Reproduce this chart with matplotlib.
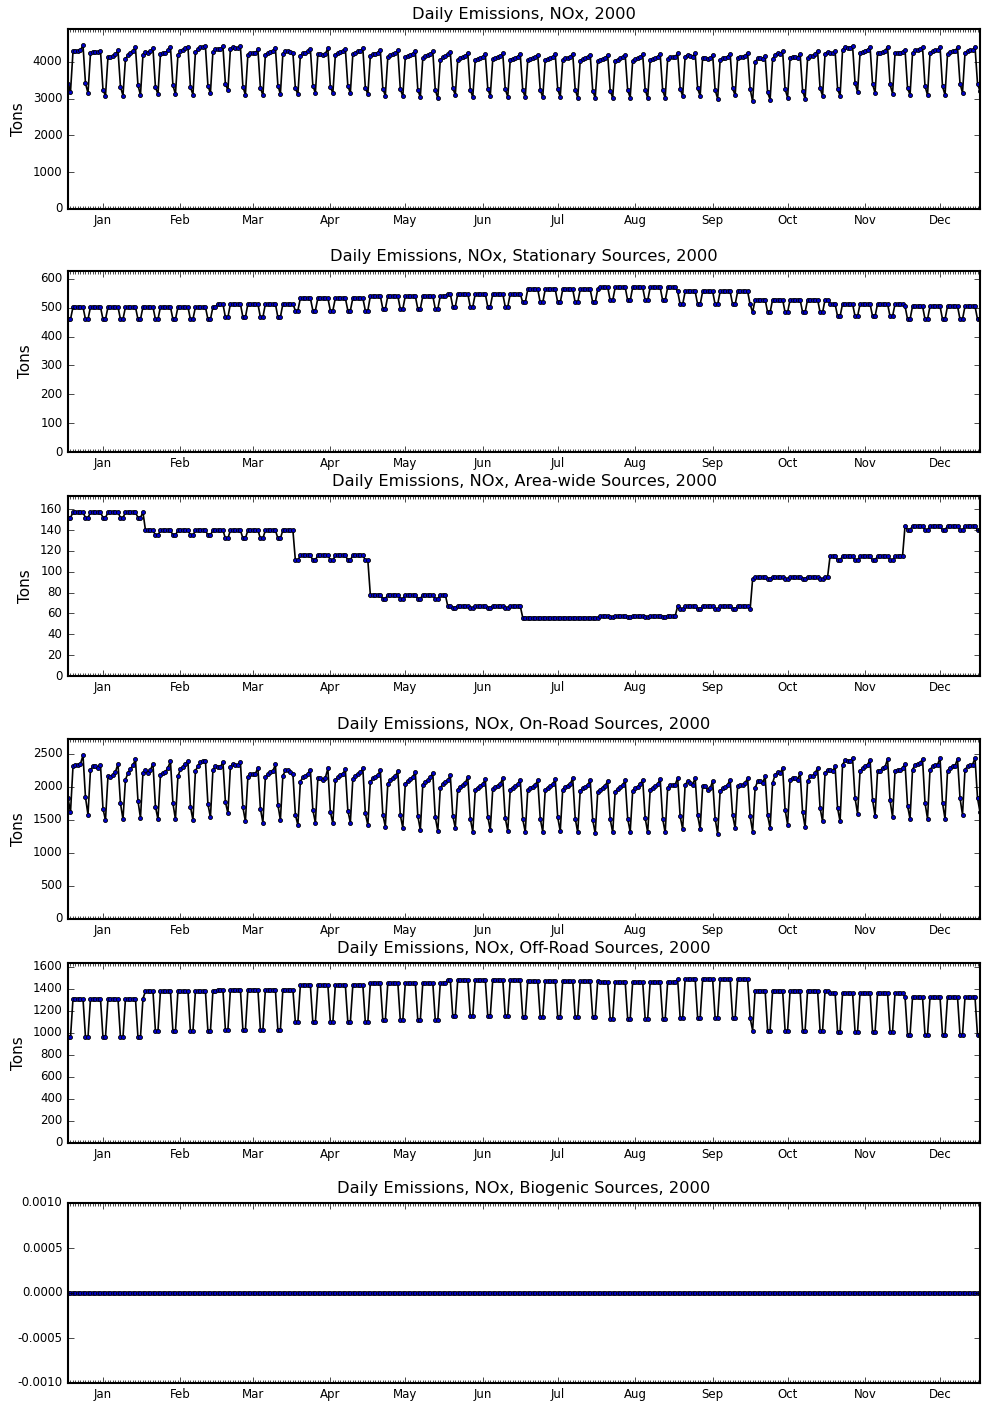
import datetime as dt

import matplotlib
matplotlib.use("Agg")
import matplotlib.pyplot as plt
import matplotlib.dates as mdates

plt.style.use("classic")
plt.rcParams["axes.unicode_minus"] = False

# one point per day of 2000 (leap year, Jan 1 is a Saturday)
days = [dt.date(2000, 1, 1) + dt.timedelta(d) for d in range(366)]

# monthly weekday / weekend levels, tons (Jan..Dec)
stat_weekday = [502, 502, 513, 533, 540, 548, 563, 570, 556, 528, 513, 505]
stat_weekend = [460, 460, 467, 490, 496, 503, 518, 525, 511, 484, 470, 460]

area_weekday = [157, 140, 140, 116, 78, 67, 56, 57.5, 67, 95, 115, 144]
area_weekend = [152, 135, 132, 111, 74, 65.5, 56, 56.5, 64, 93, 111, 140]

offroad_weekday = [1308, 1378, 1392, 1432, 1452, 1482, 1470, 1462, 1484, 1383, 1362, 1322]
offroad_weekend = [958, 1012, 1025, 1095, 1112, 1150, 1140, 1125, 1133, 1020, 1008, 978]

# on-road, one row per week: Sat, Sun, Mon, Tue, Wed, Thu, Fri
onroad = [
    1830, 1615, 2312, 2337, 2337, 2352, 2478,
    1841, 1578, 2260, 2310, 2310, 2290, 2337,
    1670, 1497, 2160, 2150, 2180, 2230, 2350,
    1750, 1510, 2110, 2210, 2270, 2330, 2420,
    1790, 1530, 2210, 2250, 2210, 2260, 2350,
    1700, 1510, 2180, 2210, 2230, 2290, 2390,
    1750, 1510, 2160, 2270, 2300, 2350, 2390,
    1700, 1500, 2240, 2320, 2370, 2390, 2400,
    1740, 1540, 2250, 2320, 2300, 2300, 2380,
    1770, 1600, 2300, 2350, 2330, 2330, 2380,
    1690, 1480, 2150, 2190, 2200, 2200, 2290,
    1670, 1460, 2150, 2190, 2230, 2240, 2340,
    1730, 1500, 2170, 2250, 2250, 2220, 2200,
    1580, 1420, 2080, 2150, 2170, 2200, 2260,
    1650, 1460, 2130, 2130, 2110, 2140, 2280,
    1620, 1450, 2100, 2150, 2180, 2200, 2270,
    1640, 1460, 2120, 2170, 2200, 2220, 2280,
    1600, 1420, 2080, 2130, 2150, 2180, 2250,
    1580, 1400, 2050, 2100, 2130, 2160, 2240,
    1570, 1380, 2050, 2090, 2120, 2150, 2230,
    1560, 1350, 2030, 2080, 2100, 2150, 2210,
    1540, 1330, 1980, 2050, 2080, 2100, 2180,
    1560, 1380, 1960, 2000, 2030, 2060, 2150,
    1520, 1320, 1950, 1990, 2010, 2040, 2120,
    1550, 1350, 1970, 2000, 2020, 2050, 2130,
    1530, 1330, 1960, 1990, 2010, 2040, 2110,
    1510, 1320, 1950, 1990, 2000, 2030, 2100,
    1520, 1320, 1950, 1990, 2010, 2040, 2120,
    1540, 1330, 1960, 2000, 2020, 2050, 2130,
    1520, 1310, 1940, 1980, 2000, 2030, 2100,
    1500, 1300, 1920, 1960, 1990, 2020, 2090,
    1510, 1310, 1930, 1970, 2000, 2030, 2100,
    1520, 1320, 1940, 1980, 2000, 2040, 2110,
    1530, 1310, 1950, 1990, 2010, 2040, 2120,
    1517, 1310, 1983, 2034, 2034, 2034, 2135,
    1553, 1361, 2034, 2084, 2059, 2034, 2135,
    1568, 1361, 2008, 2008, 1958, 1983, 2084,
    1517, 1290, 1932, 1983, 1993, 2034, 2109,
    1568, 1376, 2008, 2034, 2034, 2059, 2135,
    1553, 1325, 1983, 2084, 2084, 2059, 2160,
    1568, 1376, 2059, 2185, 2221, 2210, 2286,
    1654, 1427, 2109, 2135, 2135, 2109, 2210,
    1618, 1391, 2084, 2160, 2160, 2210, 2286,
    1679, 1477, 2210, 2261, 2261, 2236, 2312,
    1679, 1477, 2337, 2403, 2388, 2388, 2438,
    1831, 1593, 2236, 2286, 2312, 2337, 2413,
    1806, 1563, 2236, 2246, 2286, 2302, 2423,
    1796, 1543, 2236, 2261, 2251, 2286, 2352,
    1715, 1517, 2261, 2337, 2352, 2362, 2423,
    1755, 1517, 2261, 2312, 2337, 2337, 2438,
    1755, 1517, 2236, 2286, 2312, 2322, 2423,
    1831, 1578, 2261, 2312, 2337, 2337, 2438,
    1831, 1620,
]

biogenic = [0.0] * 366


def by_month(weekday_vals, weekend_vals):
    return [weekend_vals[d.month - 1] if d.weekday() >= 5 else weekday_vals[d.month - 1]
            for d in days]


stationary = by_month(stat_weekday, stat_weekend)
areawide = by_month(area_weekday, area_weekend)
offroad = by_month(offroad_weekday, offroad_weekend)
# total is the sum of the source categories
total = [s + a + o + f + b for s, a, o, f, b in zip(stationary, areawide, onroad, offroad, biogenic)]

panels = [
    ("Daily Emissions, NOx, 2000", total, True),
    ("Daily Emissions, NOx, Stationary Sources, 2000", stationary, True),
    ("Daily Emissions, NOx, Area-wide Sources, 2000", areawide, True),
    ("Daily Emissions, NOx, On-Road Sources, 2000", onroad, True),
    ("Daily Emissions, NOx, Off-Road Sources, 2000", offroad, True),
    ("Daily Emissions, NOx, Biogenic Sources, 2000", biogenic, False),
]

# axes boxes in figure pixels (top, bottom) for a 984x1401 canvas
boxes = [(29, 209), (271, 452), (496, 676), (739, 919), (963, 1143), (1203, 1383)]

fig = plt.figure(figsize=(9.84, 14.01), dpi=100, facecolor="white")
W, H = 984.0, 1401.0

for (title, vals, has_label), (top, bot) in zip(panels, boxes):
    ax = fig.add_axes([68 / W, 1 - bot / H, 912 / W, (bot - top) / H])
    ax.plot(days, vals, "k-", lw=1.2, marker="o", ms=2.9, mfc="#0000cc", mec="k", mew=0.6)
    ymax = 1.1 * max(vals)
    if ymax > 0:
        ax.set_ylim(0, ymax)
    else:
        ax.set_ylim(-0.001, 0.001)
    ax.set_xlim(days[0], days[-1])
    ax.xaxis.set_major_locator(mdates.MonthLocator(bymonthday=15))
    ax.xaxis.set_major_formatter(mdates.DateFormatter("%b"))
    ax.xaxis.set_minor_locator(mdates.DayLocator())
    ax.tick_params(labelsize=8.5)
    ax.tick_params(axis="x", which="major", pad=3.5)
    for sp in ax.spines.values():
        sp.set_linewidth(1.5)
    ax.set_title(title, fontsize=11.7, pad=7)
    if has_label:
        ax.set_ylabel("Tons", fontsize=11)

fig.savefig("out.png", dpi=100, facecolor="white")
